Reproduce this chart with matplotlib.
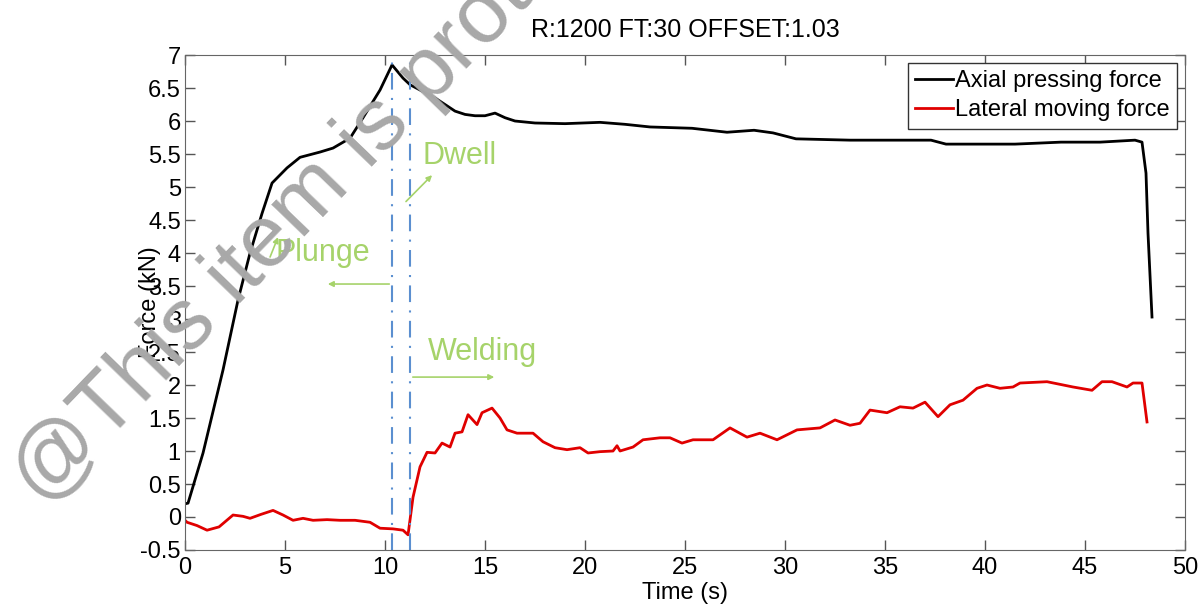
import numpy as np
import matplotlib
matplotlib.use("Agg")
import matplotlib.pyplot as plt

plt.rcParams["font.family"] = ["Liberation Sans", "DejaVu Sans"]

# axial pressing force (kN) vs time (s)
axial_t = [0, 0.15, 0.9, 1.9, 2.65, 3.25, 3.85, 4.35, 5.1, 5.75, 6.75, 7.4, 8.25, 8.9, 9.75,
           10.35, 10.9, 11.25, 11.75, 12.5, 13.0, 13.5, 14.0, 14.5, 15.0, 15.5, 16.0, 16.5,
           17.5, 19.0, 20.75, 22.0, 23.25, 25.35, 27.1, 28.45, 29.4, 30.55, 33.25, 37.3,
           38.05, 41.5, 43.8, 45.75, 47.5, 47.85, 48.05, 48.15, 48.35]
axial_f = [0.2, 0.21, 0.97, 2.23, 3.29, 4.0, 4.6, 5.06, 5.29, 5.45, 5.53, 5.59, 5.74, 6.05,
           6.47, 6.85, 6.65, 6.55, 6.47, 6.35, 6.25, 6.15, 6.1, 6.08, 6.08, 6.12, 6.05, 6.0,
           5.97, 5.96, 5.98, 5.95, 5.91, 5.89, 5.83, 5.86, 5.82, 5.73, 5.71, 5.71, 5.65,
           5.65, 5.68, 5.68, 5.71, 5.68, 5.21, 4.3, 3.03]

# lateral moving force (kN)
lat_t = [0, 0.1, 0.6, 1.1, 1.7, 2.4, 2.9, 3.25, 3.8, 4.4, 4.9, 5.4, 5.9, 6.4, 7.1, 7.75,
         8.5, 9.25, 9.75, 10.4, 10.9, 11.15, 11.4, 11.75, 12.1, 12.5, 12.85, 13.25, 13.5,
         13.85, 14.15, 14.6, 14.85, 15.35, 15.75, 16.1, 16.6, 17.4, 17.9, 18.5, 19.1, 19.75,
         20.15, 20.75, 21.4, 21.6, 21.75, 22.4, 22.9, 23.75, 24.25, 24.85, 25.4, 26.4, 27.25,
         28.1, 28.75, 29.6, 30.6, 31.75, 32.5, 33.25, 33.75, 34.25, 35.1, 35.75, 36.4, 37.0,
         37.65, 38.25, 38.9, 39.6, 40.1, 40.75, 41.4, 41.75, 43.1, 44.4, 45.35, 45.85, 46.35,
         47.1, 47.4, 47.85, 48.1]
lat_f = [-0.05, -0.08, -0.13, -0.2, -0.15, 0.03, 0.01, -0.02, 0.04, 0.1, 0.03, -0.05, -0.02,
         -0.05, -0.04, -0.05, -0.05, -0.08, -0.17, -0.18, -0.2, -0.27, 0.3, 0.76, 0.98, 0.97,
         1.12, 1.06, 1.27, 1.29, 1.55, 1.4, 1.58, 1.65, 1.5, 1.32, 1.27, 1.27, 1.14, 1.05,
         1.02, 1.05, 0.97, 0.99, 1.0, 1.08, 1.0, 1.06, 1.17, 1.2, 1.2, 1.12, 1.17, 1.17, 1.35,
         1.21, 1.27, 1.17, 1.32, 1.35, 1.47, 1.39, 1.42, 1.62, 1.58, 1.67, 1.65, 1.74, 1.52,
         1.7, 1.77, 1.95, 2.0, 1.95, 1.97, 2.03, 2.05, 1.97, 1.92, 2.05, 2.05, 1.97, 2.03,
         2.03, 1.44]

phase_lines = [10.35, 11.25]
green = "#a6d36a"

fig = plt.figure(figsize=(12, 6.08), dpi=100)
ax = fig.add_axes([0.1542, 0.0954, 0.8333, 0.8141])

ax.plot(axial_t, axial_f, color="black", lw=2.0, label="Axial pressing force")
ax.plot(lat_t, lat_f, color="#e00000", lw=2.0, label="Lateral moving force")
for xv in phase_lines:
    ax.axvline(xv, color="#5b8fd0", lw=1.5, ls=(0, (8, 4, 1, 4)))

ax.text(4.5, 4.0, "Plunge", color=green, fontsize=22, va="center")
ax.annotate("", xy=(7.0, 3.53), xytext=(10.35, 3.53),
            arrowprops=dict(arrowstyle="-|>", color=green, lw=1.2, mutation_scale=8))
ax.annotate("", xy=(4.7, 4.28), xytext=(4.2, 3.9),
            arrowprops=dict(arrowstyle="-|>", color=green, lw=1.2, mutation_scale=8))
ax.text(11.85, 5.47, "Dwell", color=green, fontsize=22, va="center")
ax.annotate("", xy=(12.45, 5.21), xytext=(10.95, 4.75),
            arrowprops=dict(arrowstyle="-|>", color=green, lw=1.2, mutation_scale=8))
ax.text(12.15, 2.5, "Welding", color=green, fontsize=22, va="center")
ax.annotate("", xy=(15.6, 2.12), xytext=(11.25, 2.12),
            arrowprops=dict(arrowstyle="-|>", color=green, lw=1.2, mutation_scale=8))

ax.set_xlim(0, 50)
ax.set_ylim(-0.5, 7)
ax.set_xticks(np.arange(0, 51, 5))
ax.set_yticks(np.arange(-0.5, 7.01, 0.5))
ax.set_yticklabels(["-0.5", "0", "0.5", "1", "1.5", "2", "2.5", "3", "3.5", "4", "4.5",
                    "5", "5.5", "6", "6.5", "7"])
ax.tick_params(direction="in", top=True, right=True, length=7, width=1,
               color="#555555", labelsize=17, pad=3)
ax.tick_params(axis="x", pad=5)
for sp in ax.spines.values():
    sp.set_color("#666666")
ax.set_xlabel("Time (s)", fontsize=17, labelpad=2)
ax.set_ylabel("Force (kN)", fontsize=17)
ax.yaxis.set_label_coords(-0.024, 0.5)
ax.set_title("R:1200 FT:30 OFFSET:1.03", fontsize=18, pad=13)

leg = ax.legend(loc="upper right", fontsize=17, handlelength=1.6, handletextpad=0.1,
                borderpad=0.3, labelspacing=0.3, borderaxespad=0.35, fancybox=False,
                framealpha=1, edgecolor="#333333")
leg.get_frame().set_linewidth(1.0)

# watermark
fig.text(0.036, 0.166, "@This item is protected", fontsize=63, color="#a8a8a8",
         rotation=46, ha="left", va="baseline", rotation_mode="anchor")

fig.savefig("out.png", dpi=100)
